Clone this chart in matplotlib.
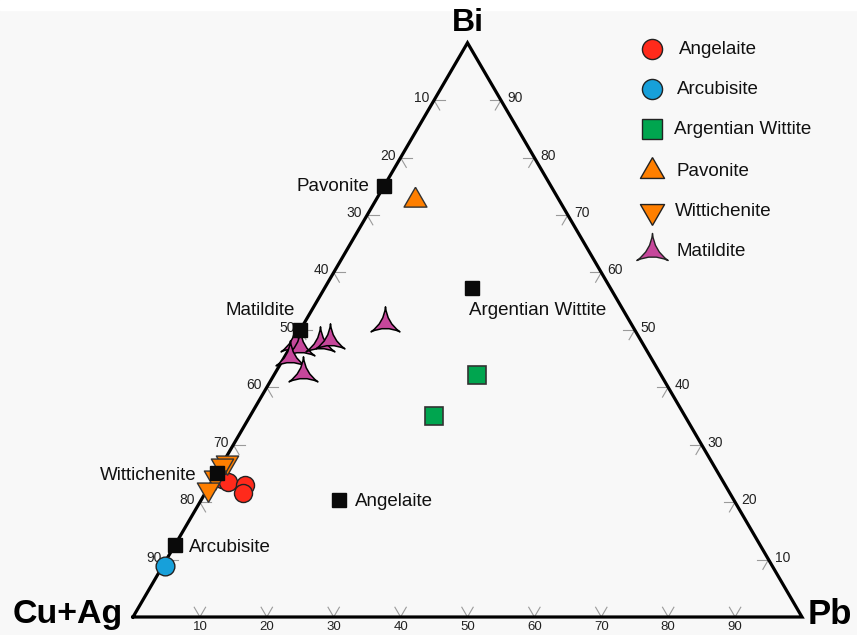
import numpy as np
import matplotlib
matplotlib.use("Agg")
import matplotlib.pyplot as plt
from matplotlib.path import Path
from matplotlib.patches import Rectangle

plt.rcParams['font.family'] = ['Liberation Sans', 'DejaVu Sans']

# compositions in % : (Cu+Ag, Bi, Pb)
angelaite_cu = [74.7, 74.0, 71.8, 72.8]
angelaite_bi = [24.0, 23.5, 23.0, 21.6]
angelaite_pb = [1.3, 2.5, 5.2, 5.6]

arcubisite_cu = [90.8]
arcubisite_bi = [8.9]
arcubisite_pb = [0.3]

argwittite_cu = [27.5, 37.5]
argwittite_bi = [42.2, 35.0]
argwittite_pb = [30.3, 27.5]

pavonite_cu = [21.5]
pavonite_bi = [72.6]
pavonite_pb = [5.9]

wittichenite_cu = [72.5, 73.5, 75.6, 77.7]
wittichenite_bi = [27.0, 26.5, 24.4, 22.3]
wittichenite_pb = [0.5, 0.0, 0.0, 0.0]

matildite_cu = [51.9, 51.5, 48.2, 46.4, 53.9, 53.3, 36.7]
matildite_bi = [47.7, 47.0, 47.7, 48.2, 45.3, 42.5, 51.2]
matildite_pb = [0.4, 1.5, 4.1, 5.3, 0.8, 4.2, 12.1]

# ideal end-member compositions (Cu+Ag, Bi, Pb)
ref_names = ['Pavonite', 'Matildite', 'Argentian Wittite', 'Wittichenite', 'Arcubisite', 'Angelaite']
ref_cu = [25.0, 50.0, 20.7, 75.0, 87.5, 59.0]
ref_bi = [75.0, 50.0, 57.3, 25.0, 12.5, 20.4]
ref_pb = [0.0, 0.0, 22.0, 0.0, 0.0, 20.6]

ticks = [10, 20, 30, 40, 50, 60, 70, 80, 90]

H = np.sqrt(3) / 2


def tern(cu, bi, pb):
    cu, bi, pb = np.asarray(cu, float), np.asarray(bi, float), np.asarray(pb, float)
    s = cu + bi + pb
    return (pb + bi / 2) / s, bi * H / s


# marker shapes
tri_up = Path([(0, 0.577), (-0.5, -0.289), (0.5, -0.289), (0, 0.577)])
tri_dn = Path([(0, -0.577), (-0.5, 0.289), (0.5, 0.289), (0, -0.577)])
pts = [(np.cos(a), np.sin(a)) for a in np.deg2rad([90, 210, 330])]
ctl = [(0.1 * np.cos(a), 0.1 * np.sin(a)) for a in np.deg2rad([150, 270, 30])]
star = Path([pts[0], ctl[0], pts[1], ctl[1], pts[2], ctl[2], pts[0], pts[0]],
            [Path.MOVETO, Path.CURVE3, Path.CURVE3, Path.CURVE3, Path.CURVE3,
             Path.CURVE3, Path.CURVE3, Path.CLOSEPOLY])

red = '#ff2a1b'
blue = '#17a0da'
green = '#00a54f'
orange = '#ff7f00'
magenta = '#c6479b'

fig = plt.figure(figsize=(8.57, 6.35), dpi=100, facecolor='#f8f8f8')
fig.patches.append(Rectangle((0, 1 - 10 / 635), 1, 10 / 635, transform=fig.transFigure,
                             color='white', zorder=-5))
ax = fig.add_axes([0, 0, 1, 1])
ax.set_xlim(-133 / 669, 724 / 669)
ax.set_ylim(-18 / 663, 617 / 663)
ax.axis('off')

# triangle frame
ax.plot([0, 1, 0.5, 0], [0, 0, H, 0], color='black', lw=2.3, solid_joinstyle='miter', zorder=3)

# tick stubs and labels
L = 1.7
tk = dict(color='#9a9a9a', lw=0.8, zorder=2)
for t in ticks:
    # bottom axis: Pb
    x0, y0 = tern(100 - t, 0, t)
    for a in [tern(100 - t - L, L, t), tern(100 - t, L, t - L)]:
        ax.plot([x0, a[0]], [y0, a[1]], **tk)
    ax.annotate(str(t), (x0, y0), xytext=(0, -4), textcoords='offset pixels',
                ha='center', va='top', fontsize=9.5, color='#222222')
    # left axis: Cu+Ag
    x0, y0 = tern(t, 100 - t, 0)
    for a in [tern(t - L, 100 - t, L), tern(t, 100 - t - L, L)]:
        ax.plot([x0, a[0]], [y0, a[1]], **tk)
    ax.annotate(str(t), (x0, y0), xytext=(-5, 2), textcoords='offset pixels',
                ha='right', va='center', fontsize=10, color='#222222')
    # right axis: Bi
    x0, y0 = tern(0, t, 100 - t)
    for a in [tern(L, t, 100 - t - L), tern(L, t - L, 100 - t)]:
        ax.plot([x0, a[0]], [y0, a[1]], **tk)
    ax.annotate(str(t), (x0, y0), xytext=(6, 2), textcoords='offset pixels',
                ha='left', va='center', fontsize=10, color='#222222')

# vertex labels
ax.annotate('Bi', tern(0, 100, 0), xytext=(0, 20), textcoords='offset pixels',
            ha='center', va='center', fontsize=23, fontweight='bold')
ax.annotate('Cu+Ag', tern(100, 0, 0), xytext=(-10, 2), textcoords='offset pixels',
            ha='right', va='center', fontsize=24.5, fontweight='bold')
ax.annotate('Pb', tern(0, 0, 100), xytext=(6, 2), textcoords='offset pixels',
            ha='left', va='center', fontsize=25, fontweight='bold')

# data
x, y = tern(angelaite_cu, angelaite_bi, angelaite_pb)
ax.plot(x, y, 'o', ms=13, mfc=red, mec='#222222', mew=1, ls='none', zorder=4)
x, y = tern(arcubisite_cu, arcubisite_bi, arcubisite_pb)
ax.plot(x, y, 'o', ms=13.5, mfc=blue, mec='#222222', mew=1, ls='none', zorder=4)
x, y = tern(argwittite_cu, argwittite_bi, argwittite_pb)
ax.plot(x, y, 's', ms=13, mfc=green, mec='#333333', mew=1.2, ls='none', zorder=4)
x, y = tern(pavonite_cu, pavonite_bi, pavonite_pb)
ax.plot(x, y, marker=tri_up, ms=19, mfc=orange, mec='#333333', mew=1, ls='none', zorder=4)
x, y = tern(wittichenite_cu, wittichenite_bi, wittichenite_pb)
ax.plot(x, y, marker=tri_dn, ms=18.5, mfc=orange, mec='#333333', mew=1, ls='none', zorder=4)
x, y = tern(matildite_cu, matildite_bi, matildite_pb)
ax.plot(x, y, marker=star, ms=24, mfc=magenta, mec='black', mew=1.1, ls='none', zorder=4)

# end-member reference squares and names
rx, ry = tern(ref_cu, ref_bi, ref_pb)
ax.plot(rx, ry, 's', ms=10, mfc='#0a0a0a', mec='#0a0a0a', ls='none', zorder=5)
offsets = [(-15, 0, 'right'), (-5, 19, 'right'), (-3, -23, 'left'),
           (-20, -2, 'right'), (14, -2, 'left'), (16, -2, 'left')]
for name, xx, yy, (dx, dy, ha) in zip(ref_names, rx, ry, offsets):
    ax.annotate(name, (xx, yy), xytext=(dx, dy), textcoords='offset pixels',
                ha=ha, va='center', fontsize=13.5, color='#111111', zorder=6)

# legend
legend = [('Angelaite', 'o', red, 14.5), ('Arcubisite', 'o', blue, 14.5),
          ('Argentian Wittite', 's', green, 14.5), ('Pavonite', tri_up, orange, 20),
          ('Wittichenite', tri_dn, orange, 20), ('Matildite', star, magenta, 26)]
leg_y = [49, 89, 129, 171, 211, 251]
leg_tx = [679, 677, 674, 676, 675, 677]
for (lab, mk, col, ms), py, tx in zip(legend, leg_y, leg_tx):
    yy = 1 - py / 635
    ax.plot([652 / 857], [yy], marker=mk, ms=ms, mfc=col, mec='#222222', mew=1,
            ls='none', transform=ax.transAxes, clip_on=False)
    ax.text(tx / 857, yy, lab, transform=ax.transAxes, ha='left', va='center',
            fontsize=13.5, color='#111111')

fig.savefig('out.png', dpi=100, facecolor=fig.get_facecolor())
